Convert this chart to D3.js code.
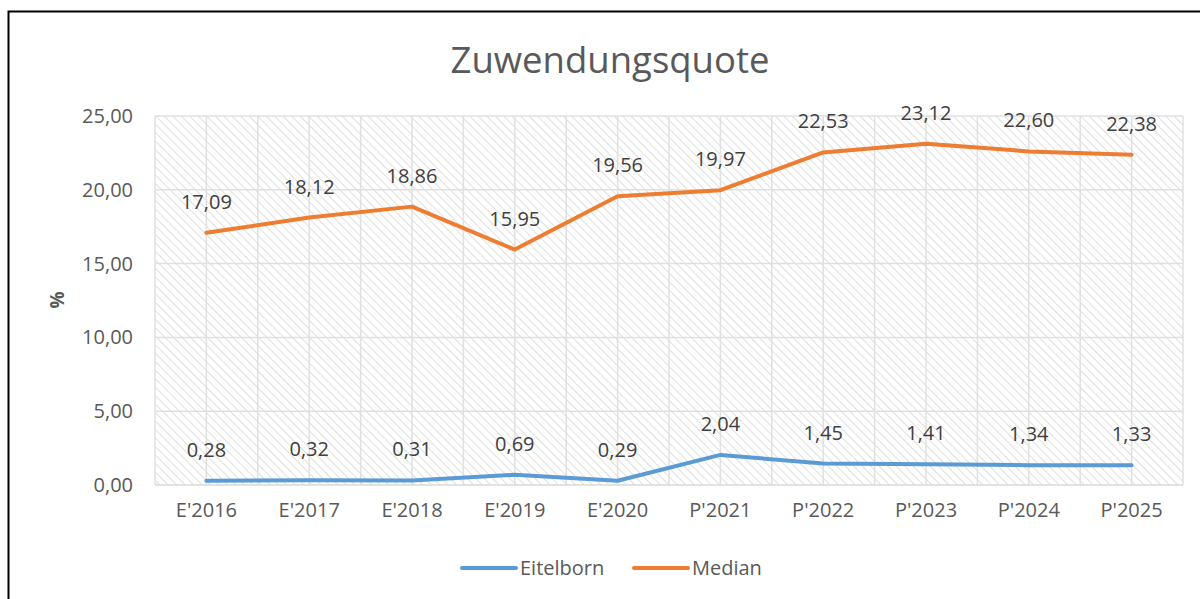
<!DOCTYPE html>
<html>
<head>
<meta charset="utf-8">
<script src="https://cdn.jsdelivr.net/npm/d3@7"></script>
<style>
  body { margin: 0; background: #fff; }
  text { font-family: "Open Sans", "Liberation Sans", sans-serif; }
</style>
</head>
<body>
<div id="chart"></div>
<script>
// data
var categories = ["E'2016", "E'2017", "E'2018", "E'2019", "E'2020", "P'2021", "P'2022", "P'2023", "P'2024", "P'2025"];
var eitelborn = [0.28, 0.32, 0.31, 0.69, 0.29, 2.04, 1.45, 1.41, 1.34, 1.33];
var median = [17.09, 18.12, 18.86, 15.95, 19.56, 19.97, 22.53, 23.12, 22.60, 22.38];
var yTicks = [0, 5, 10, 15, 20, 25];
var seriesNames = ["Eitelborn", "Median"];
var seriesColors = ["#5b9bd5", "#ed7d31"];

var W = 1200, H = 599;
var margin = {top: 116, right: 17, bottom: 114, left: 155};
var width = W - margin.left - margin.right,
    height = H - margin.top - margin.bottom;

var fmt = function(v) { return d3.format(".2f")(v).replace(".", ","); };

var svg = d3.select("#chart").append("svg")
    .attr("width", W)
    .attr("height", H);

// outer frame (only left and top visible)
svg.append("path")
    .attr("d", "M8.5,599 L8.5,11.5 L1200,11.5")
    .attr("fill", "none")
    .attr("stroke", "#000")
    .attr("stroke-width", 2);

// hatch pattern
var defs = svg.append("defs");
var pat = defs.append("pattern")
    .attr("id", "hatch")
    .attr("patternUnits", "userSpaceOnUse")
    .attr("width", 6)
    .attr("height", 6)
    .attr("patternTransform", "rotate(-45)");
pat.append("rect").attr("width", 6).attr("height", 6).attr("fill", "#fff");
pat.append("line")
    .attr("x1", 0).attr("y1", 0).attr("x2", 0).attr("y2", 6)
    .attr("stroke", "#dcdcdc")
    .attr("stroke-width", 1.8);

var g = svg.append("g")
    .attr("transform", "translate(" + margin.left + "," + margin.top + ")");

var x = d3.scaleBand()
    .domain(categories)
    .range([0, width]);

var y = d3.scaleLinear()
    .domain([0, 25])
    .range([height, 0]);

g.append("rect")
    .attr("width", width)
    .attr("height", height)
    .attr("fill", "url(#hatch)");

// vertical gridlines at band edges and centres
var vx = [];
categories.forEach(function(c) { vx.push(x(c)); vx.push(x(c) + x.bandwidth() / 2); });
vx.push(width);
g.selectAll(".vgrid")
    .data(vx)
    .enter().append("line")
    .attr("x1", function(d) { return d; })
    .attr("x2", function(d) { return d; })
    .attr("y1", 0)
    .attr("y2", height)
    .attr("stroke", "#e0e0e0")
    .attr("stroke-width", 1.5);

g.selectAll(".hgrid")
    .data(yTicks)
    .enter().append("line")
    .attr("x1", 0)
    .attr("x2", width)
    .attr("y1", function(d) { return y(d); })
    .attr("y2", function(d) { return y(d); })
    .attr("stroke", function(d) { return d === 0 ? "#d9d9d9" : "#e0e0e0"; })
    .attr("stroke-width", 1.5);

// y axis
var yAxis = g.append("g")
    .call(d3.axisLeft(y).tickValues(yTicks).tickFormat(fmt).tickSize(0).tickPadding(22));
yAxis.select(".domain").remove();
yAxis.selectAll("text")
    .attr("fill", "#595959")
    .style("font-size", "20px");

// x axis
var xAxis = g.append("g")
    .attr("transform", "translate(0," + height + ")")
    .call(d3.axisBottom(x).tickSize(0).tickPadding(18));
xAxis.select(".domain").remove();
xAxis.selectAll("text")
    .attr("fill", "#595959")
    .style("font-size", "20px");

// axis title
svg.append("text")
    .attr("transform", "translate(64,300) rotate(-90)")
    .attr("text-anchor", "middle")
    .attr("fill", "#595959")
    .style("font-size", "19px")
    .style("font-weight", "bold")
    .text("%");

// chart title
svg.append("text")
    .attr("x", 610)
    .attr("y", 73)
    .attr("text-anchor", "middle")
    .attr("fill", "#595959")
    .style("font-size", "36.5px")
    .text("Zuwendungsquote");

var line = d3.line()
    .x(function(d, i) { return x(categories[i]) + x.bandwidth() / 2; })
    .y(function(d) { return y(d); });

var allSeries = [eitelborn, median];
allSeries.forEach(function(vals, s) {
  g.append("path")
      .datum(vals)
      .attr("fill", "none")
      .attr("stroke", seriesColors[s])
      .attr("stroke-width", 4)
      .attr("stroke-linejoin", "round")
      .attr("stroke-linecap", "round")
      .attr("d", line);

  g.selectAll(".lbl" + s)
      .data(vals)
      .enter().append("text")
      .attr("x", function(d, i) { return x(categories[i]) + x.bandwidth() / 2; })
      .attr("y", function(d) { return y(d) - 24; })
      .attr("text-anchor", "middle")
      .attr("fill", "#404040")
      .style("font-size", "20px")
      .text(fmt);
});

// legend
var legend = svg.append("g");
var legendPos = [[462, 520], [634, 692]];
seriesNames.forEach(function(name, s) {
  legend.append("line")
      .attr("x1", legendPos[s][0])
      .attr("x2", legendPos[s][0] + 54)
      .attr("y1", 568)
      .attr("y2", 568)
      .attr("stroke", seriesColors[s])
      .attr("stroke-width", 4)
      .attr("stroke-linecap", "round");
  legend.append("text")
      .attr("x", legendPos[s][1])
      .attr("y", 575)
      .attr("fill", "#595959")
      .style("font-size", "20px")
      .text(name);
});
</script>
</body>
</html>
